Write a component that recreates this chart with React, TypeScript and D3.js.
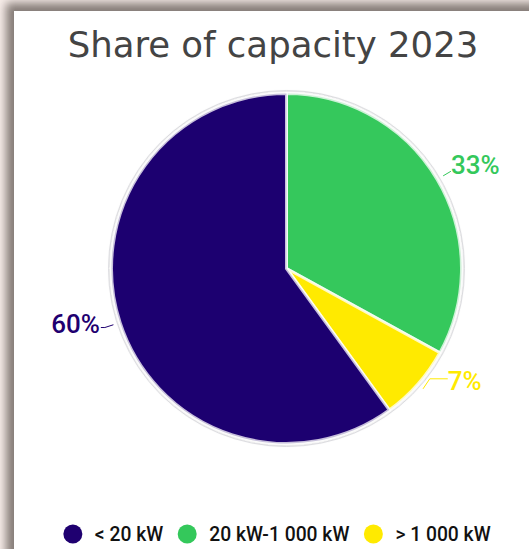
import React, { useEffect, useRef } from "react";
import * as d3 from "d3";

// legend order
const categories = ["< 20 kW", "20 kW-1 000 kW", "> 1 000 kW"];
const shares = [60, 33, 7];
const colors = ["#1f0070", "#34c85b", "#ffea00"];
// clockwise draw order from 12 o'clock
const drawOrder = [1, 2, 0];
const title = "Share of capacity 2023";

const W = 529;
const H = 549;

const App: React.FC = () => {
  const svgRef = useRef<SVGSVGElement>(null);

  useEffect(() => {
    if (!svgRef.current) return;
    const svg = d3.select(svgRef.current);
    svg.selectAll("*").remove();

    const defs = svg.append("defs");

    // card shadow
    const sh = defs.append("filter").attr("id", "cardShadow")
      .attr("x", "-10%").attr("y", "-10%").attr("width", "120%").attr("height", "120%");
    sh.append("feGaussianBlur").attr("stdDeviation", 5);

    const pieShadow = defs.append("filter").attr("id", "pieShadow")
      .attr("x", "-10%").attr("y", "-10%").attr("width", "120%").attr("height", "120%");
    pieShadow.append("feGaussianBlur").attr("in", "SourceAlpha").attr("stdDeviation", 1.5).attr("result", "b");
    pieShadow.append("feComponentTransfer").attr("in", "b").attr("result", "b2")
      .append("feFuncA").attr("type", "linear").attr("slope", 0.25);
    const m = pieShadow.append("feMerge");
    m.append("feMergeNode").attr("in", "b2");
    m.append("feMergeNode").attr("in", "SourceGraphic");

    // page frame
    svg.append("rect").attr("width", W).attr("height", H).attr("fill", "#f8eeea");
    svg.append("rect")
      .attr("x", 6).attr("y", 3).attr("width", W + 20).attr("height", H + 20)
      .attr("fill", "#857b77")
      .attr("filter", "url(#cardShadow)");
    svg.append("rect")
      .attr("x", 14).attr("y", 11).attr("width", W).attr("height", H)
      .attr("fill", "#ffffff");

    // title
    svg.append("text")
      .attr("x", 273)
      .attr("y", 57)
      .attr("text-anchor", "middle")
      .style("font-family", "'DejaVu Sans', sans-serif")
      .style("font-size", "35.5px")
      .style("fill", "#444444")
      .text(title);

    // pie
    const cx = 286.5;
    const cy = 268.5;
    const r = 175;
    const ordered = drawOrder.map((i) => ({ i, value: shares[i] }));
    const pie = d3.pie<{ i: number; value: number }>().sort(null).value((d) => d.value);
    const arcs = pie(ordered);
    const arc = d3.arc<d3.PieArcDatum<{ i: number; value: number }>>()
      .innerRadius(0).outerRadius(r);

    const g = svg.append("g").attr("transform", `translate(${cx},${cy})`);
    g.append("circle").attr("r", r + 3).attr("fill", "none")
      .attr("stroke", "#e4e4e8").attr("stroke-width", 1);
    const pg = g.append("g").attr("filter", "url(#pieShadow)");
    pg.selectAll("path.slice")
      .data(arcs)
      .enter()
      .append("path")
      .attr("class", "slice")
      .attr("d", arc)
      .attr("fill", (d) => colors[d.data.i])
      .attr("stroke", "#ffffff")
      .attr("stroke-opacity", 0.75)
      .attr("stroke-width", 3)
      .attr("stroke-linejoin", "round");

    // labels with leader lines (small per-label layout tweaks, like the original's overlap shifting)
    const nudge: Record<number, { dy: number; len: number; textDy: number }> = {
      0: { dy: 0, len: 4, textDy: -4 },
      1: { dy: 0, len: 0, textDy: -6 },
      2: { dy: -16, len: 18, textDy: 2 },
    };
    arcs.forEach((a) => {
      const mid = (a.startAngle + a.endAngle) / 2;
      const pt = (rr: number) => [Math.sin(mid) * rr, -Math.cos(mid) * rr];
      const p1 = pt(r + 7);
      const p2 = pt(r + 16);
      const n = nudge[a.data.i];
      p2[1] += n.dy;
      const right = Math.sin(mid) >= 0;
      const p3 = [p2[0] + (right ? n.len : -n.len), p2[1]];
      const col = colors[a.data.i];
      g.append("path")
        .attr("d", d3.line()([p1 as [number, number], p2 as [number, number], p3 as [number, number]]))
        .attr("fill", "none")
        .attr("stroke", col)
        .attr("stroke-width", 1);
      g.append("text")
        .attr("x", p3[0] + (right ? 0 : -1))
        .attr("y", p3[1] + n.textDy)
        .attr("dominant-baseline", "central")
        .attr("text-anchor", right ? "start" : "end")
        .style("font-family", "Roboto, sans-serif")
        .style("font-size", "26px")
        .style("font-weight", 500)
        .style("fill", col)
        .text(`${a.data.value}%`);
    });

    // legend
    const lg = svg.append("g").attr("transform", "translate(0,534)");
    const items = lg.selectAll("g.item")
      .data(categories)
      .enter()
      .append("g")
      .attr("class", "item");
    items.append("circle").attr("r", 9.5).attr("fill", (d, i) => colors[i]);
    items.append("text")
      .attr("x", 22)
      .attr("y", 7)
      .style("font-family", "Roboto, sans-serif")
      .style("font-size", "19.3px")
      .style("font-weight", 500)
      .style("fill", "#111")
      .text((d) => d);
    const widths: number[] = [];
    items.each(function () {
      const t = d3.select(this).select("text").node() as SVGTextElement;
      widths.push(t.getComputedTextLength());
    });
    const total = widths.reduce((s, w, i) => s + 9.5 + 22 + w + (i < widths.length - 1 ? 24 - 9.5 : 0), 0);
    let x = 277 - total / 2 + 9.5;
    items.each(function (d, i) {
      d3.select(this).attr("transform", `translate(${x},0)`);
      x += 22 + widths[i] + 24;
    });
  }, []);

  return (
    <svg
      ref={svgRef}
      width={W}
      height={H}
      style={{ position: "fixed", left: 0, top: 0, display: "block" }}
    />
  );
};

export default App;
